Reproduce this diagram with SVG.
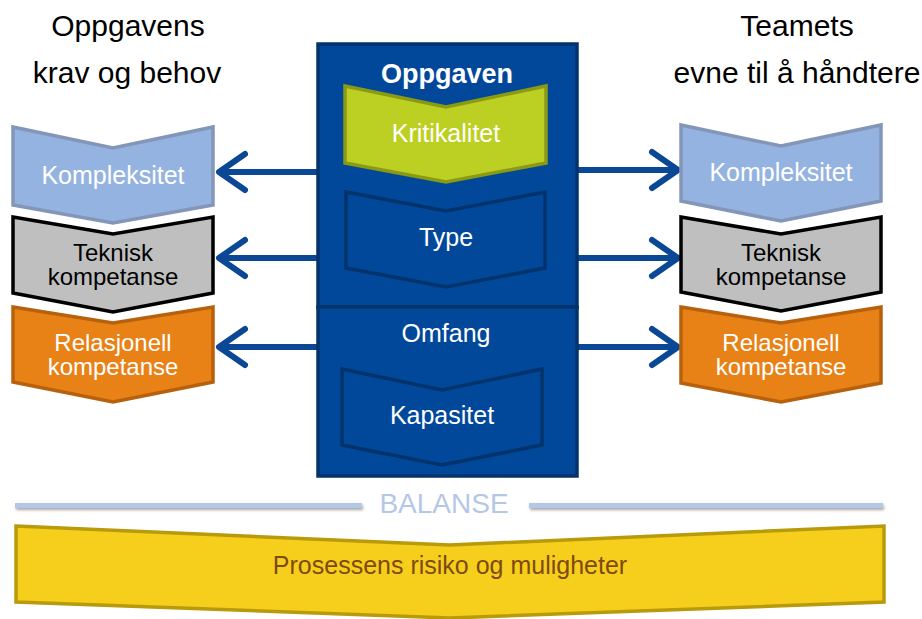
<svg xmlns="http://www.w3.org/2000/svg" width="922" height="619" viewBox="0 0 922 619">
<style>
text{font-family:"Liberation Sans",Arial,sans-serif;text-anchor:middle}
.h{font-size:30px;fill:#000}
.t{font-size:25px}
.t2{font-size:24px}
.w{fill:#fff}
.k{fill:#000}
.blue{fill:#95b3e0;stroke:#8496b8;stroke-width:3.5}
.grey{fill:#bfbfbf;stroke:#000;stroke-width:3.5}
.orange{fill:#e88116;stroke:#b8610d;stroke-width:3.5}
.box{fill:#02489a;stroke:#03336b;stroke-width:3.5}
.inner{fill:#02489a;stroke:#03336b;stroke-width:3.5}
.arr{fill:none;stroke:#0a4895;stroke-width:6;stroke-linecap:round;stroke-linejoin:round}
.bal{fill:#b4c7e7;filter:url(#sh)}
</style>
<defs>
<filter id="sh" filterUnits="userSpaceOnUse" x="0" y="490" width="922" height="30"><feDropShadow dx="1" dy="2" stdDeviation="1.5" flood-color="#000" flood-opacity="0.35"/></filter>
</defs>
<g id="heading-left"><text class="h" x="128" y="36">Oppgavens</text><text class="h" x="127" y="83">krav og behov</text></g>
<g id="heading-right"><text class="h" x="797" y="36">Teamets</text><text class="h" x="797" y="83">evne til å håndtere</text></g>
<g id="connectors">
<path class="arr" d="M318,172 H221 M245,154 L219,172 L245,190"/>
<path class="arr" d="M318,258 H221 M245,240 L219,258 L245,276"/>
<path class="arr" d="M318,347 H221 M245,329 L219,347 L245,365"/>
<path class="arr" d="M577,170 H676 M652,152 L678,170 L652,188"/>
<path class="arr" d="M577,258 H676 M652,240 L678,258 L652,276"/>
<path class="arr" d="M577,347 H676 M652,329 L678,347 L652,365"/>
</g>
<g id="oppgaven">
<rect class="box" x="318" y="44" width="259" height="263"/>
<rect class="box" x="318" y="307" width="259" height="169"/>
<text x="447" y="83" style="font-size:27px;font-weight:bold;fill:#fff">Oppgaven</text>
</g>
<g id="kritikalitet"><path d="M345,86 L446,107 L546,86 L546,163 L446,182 L345,163 Z" style="fill:#bccf23;stroke:#8a9a12;stroke-width:3.5"/><text class="t w" x="446" y="142">Kritikalitet</text></g>
<g id="type"><path class="inner" d="M346,192 L446,211 L545,192 L545,268 L446,287 L346,268 Z"/><text class="t w" x="446" y="246">Type</text></g>
<g id="omfang"><text class="t w" x="446" y="342">Omfang</text></g>
<g id="kapasitet"><path class="inner" d="M342,369 L442,390 L542,369 L542,445 L442,465 L342,445 Z"/><text class="t w" x="442" y="424">Kapasitet</text></g>
<g id="l-kompleksitet"><path class="blue" d="M13,127 L113,148 L213,127 L213,205 L113,223 L13,205 Z"/><text class="t w" x="113" y="184">Kompleksitet</text></g>
<g id="l-teknisk"><path class="grey" d="M13,217 L113,234 L213,217 L213,293 L113,312 L13,293 Z"/><text class="t2 k" x="113" y="261">Teknisk</text><text class="t2 k" x="113" y="285">kompetanse</text></g>
<g id="l-relasjonell"><path class="orange" d="M13,307 L113,323 L213,307 L213,382 L113,402 L13,382 Z"/><text class="t2 w" x="113" y="351">Relasjonell</text><text class="t2 w" x="113" y="375">kompetanse</text></g>
<g id="r-kompleksitet"><path class="blue" d="M681,125 L781,146 L881,125 L881,201 L781,221 L681,201 Z"/><text class="t w" x="781" y="181">Kompleksitet</text></g>
<g id="r-teknisk"><path class="grey" d="M681,217 L781,234 L881,217 L881,292 L781,311 L681,292 Z"/><text class="t2 k" x="781" y="261">Teknisk</text><text class="t2 k" x="781" y="285">kompetanse</text></g>
<g id="r-relasjonell"><path class="orange" d="M681,307 L781,323 L881,307 L881,383 L781,402 L681,383 Z"/><text class="t2 w" x="781" y="351">Relasjonell</text><text class="t2 w" x="781" y="375">kompetanse</text></g>
<g id="balanse">
<rect class="bal" x="15" y="503" width="347" height="5"/>
<rect class="bal" x="529" y="503" width="354" height="5"/>
<text x="444" y="513" style="font-size:28px;fill:#b4c7e7">BALANSE</text>
</g>
<g id="prosess"><path d="M16,526 L450,545 L884,526 L884,602 L450,618 L16,602 Z" style="fill:#f5cf1b;stroke:#b99a0b;stroke-width:3.5"/><text x="450" y="574" style="font-size:25px;fill:#7f4a10">Prosessens risiko og muligheter</text></g>
</svg>
